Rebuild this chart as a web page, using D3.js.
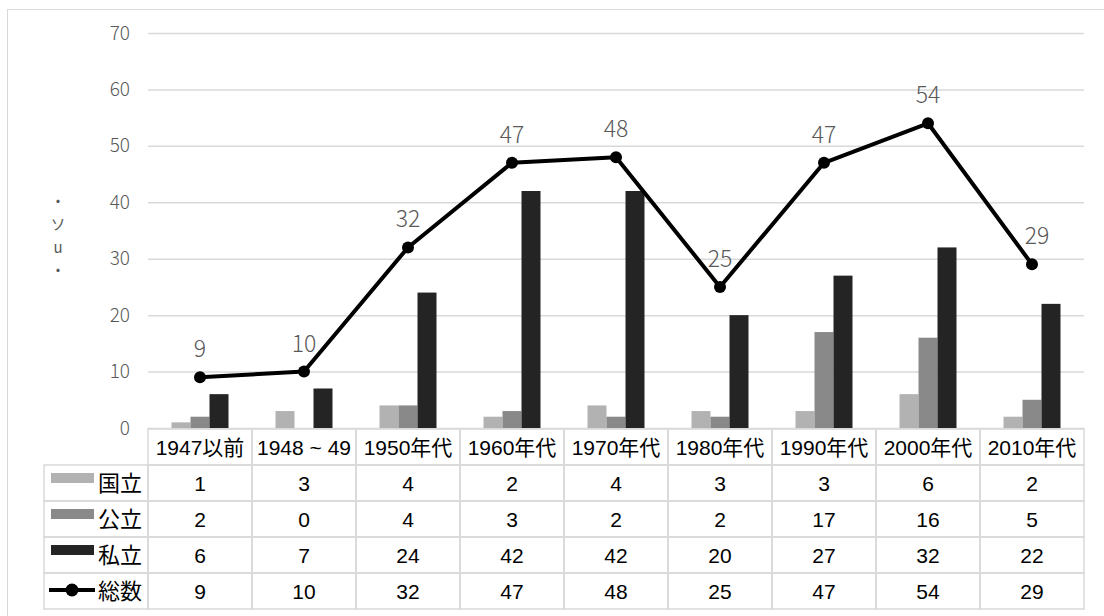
<!DOCTYPE html>
<html>
<head>
<meta charset="utf-8">
<script src="https://cdn.jsdelivr.net/npm/d3@7/dist/d3.min.js"></script>
<style>
  html, body { margin: 0; padding: 0; background: #fff; }
  svg { display: block; }
</style>
</head>
<body>
<svg id="chart" width="1104" height="616"></svg>
<script>
// Founding counts per period, by type of institution
const categories = ["1947以前", "1948 ~ 49", "1950年代", "1960年代", "1970年代", "1980年代", "1990年代", "2000年代", "2010年代"];
const national = [1, 3, 4, 2, 4, 3, 3, 6, 2];   // 国立
const publicU  = [2, 0, 4, 3, 2, 2, 17, 16, 5]; // 公立
const privateU = [6, 7, 24, 42, 42, 20, 27, 32, 22]; // 私立
const totals   = [9, 10, 32, 47, 48, 25, 47, 54, 29]; // 総数
const seriesNames = ["国立", "公立", "私立"];
const totalName = "総数";
const yTicks = [0, 10, 20, 30, 40, 50, 60, 70];
const axisLabelChars = ["・", "ソ", "u", "・"];

const svg = d3.select("#chart");
const grid = "#d9d9d9";
const textGrey = "#595959";
const barColors = ["#b2b2b2", "#898989", "#242424"];
const numFont = "'Liberation Sans', Arial, 'Noto Sans CJK JP', sans-serif";
const lightFont = "'Noto Sans CJK JP', 'Noto Sans', sans-serif";

// Outer chart frame
svg.append("rect").attr("x", 7.5).attr("y", 9.5).attr("width", 1110).attr("height", 620)
  .attr("fill", "none").attr("stroke", grid).attr("stroke-width", 1);

const plotL = 148, plotR = 1084, plotT = 33, plotB = 428;
const x0 = d3.scaleBand().domain(categories).range([plotL, plotR]).padding(0);
const bw = x0.bandwidth();
const groupW = 57;
const x1 = d3.scaleBand().domain(seriesNames).range([(bw - groupW) / 2, (bw + groupW) / 2]).padding(0);
const y = d3.scaleLinear().domain([0, 70]).range([plotB, plotT]);

// Gridlines and y tick labels
const yAxis = d3.axisLeft(y).tickValues(yTicks).tickSize(-(plotR - plotL)).tickPadding(18);
const gy = svg.append("g").attr("transform", `translate(${plotL},0)`).call(yAxis);
gy.select(".domain").remove();
gy.selectAll(".tick line").attr("stroke", grid).attr("stroke-width", 1.5);
gy.selectAll(".tick text").attr("fill", textGrey)
  .style("font-family", lightFont).style("font-weight", 300).style("font-size", "19px");

// Vertical axis title
svg.append("g").selectAll("text").data(axisLabelChars).join("text")
  .attr("x", 58).attr("y", (d, i) => 207 + i * 23)
  .attr("text-anchor", "middle").attr("fill", textGrey)
  .attr("font-family", lightFont).attr("font-size", 15).text(d => d);

// Clustered bars
const barSeries = [national, publicU, privateU];
const gBars = svg.append("g");
categories.forEach((c, i) => {
  barSeries.forEach((vals, s) => {
    const v = vals[i];
    if (v <= 0) return;
    gBars.append("rect")
      .attr("x", x0(c) + x1(seriesNames[s]))
      .attr("y", y(v))
      .attr("width", x1.bandwidth())
      .attr("height", y(0) - y(v))
      .attr("fill", barColors[s]);
  });
});

// Total line with markers
const cx = c => x0(c) + bw / 2;
const line = d3.line().x((d, i) => cx(categories[i])).y(d => y(d));
svg.append("path").datum(totals).attr("d", line)
  .attr("fill", "none").attr("stroke", "#000").attr("stroke-width", 4).attr("stroke-linejoin", "round");
svg.append("g").selectAll("circle").data(totals).join("circle")
  .attr("cx", (d, i) => cx(categories[i])).attr("cy", d => y(d)).attr("r", 6).attr("fill", "#000");
svg.append("g").selectAll("text").data(totals).join("text")
  .attr("x", (d, i) => cx(categories[i]) + (i === totals.length - 1 ? 5 : 0))
  .attr("y", d => y(d) - 20)
  .attr("text-anchor", "middle").attr("fill", textGrey)
  .attr("font-family", lightFont).attr("font-weight", 300).attr("font-size", 23)
  .text(d => d);

// Data table beneath the plot
const rowTop = 429, rowH = 36, legendLeft = 44;
const rows = [national, publicU, privateU, totals];
const rowNames = [...seriesNames, totalName];
const tbl = svg.append("g");

// header cells
categories.forEach(c => {
  tbl.append("rect").attr("x", x0(c)).attr("y", rowTop).attr("width", bw).attr("height", rowH)
    .attr("fill", "none").attr("stroke", grid).attr("stroke-width", 1.5);
  tbl.append("text").attr("x", x0(c) + bw / 2).attr("y", rowTop + rowH / 2 + 7.5)
    .attr("text-anchor", "middle").attr("font-family", numFont).attr("font-size", 21)
    .attr("fill", "#000").text(c);
});

rows.forEach((vals, r) => {
  const ry = rowTop + rowH * (r + 1);
  tbl.append("rect").attr("x", legendLeft).attr("y", ry).attr("width", plotL - legendLeft).attr("height", rowH)
    .attr("fill", "none").attr("stroke", grid).attr("stroke-width", 1.5);
  // legend key
  if (r < 3) {
    tbl.append("rect").attr("x", 51).attr("y", ry + 8).attr("width", 43).attr("height", 10)
      .attr("fill", barColors[r]);
  } else {
    tbl.append("line").attr("x1", 49).attr("x2", 95).attr("y1", ry + 17).attr("y2", ry + 17)
      .attr("stroke", "#000").attr("stroke-width", 4);
    tbl.append("circle").attr("cx", 72).attr("cy", ry + 17).attr("r", 6.5).attr("fill", "#000");
  }
  tbl.append("text").attr("x", 142).attr("y", ry + rowH / 2 + 8)
    .attr("text-anchor", "end").attr("font-family", "'Noto Sans CJK JP', sans-serif").attr("font-size", 22)
    .attr("fill", "#000").text(rowNames[r]);
  categories.forEach((c, i) => {
    tbl.append("rect").attr("x", x0(c)).attr("y", ry).attr("width", bw).attr("height", rowH)
      .attr("fill", "none").attr("stroke", grid).attr("stroke-width", 1.5);
    tbl.append("text").attr("x", x0(c) + bw / 2).attr("y", ry + rowH / 2 + 7.5)
      .attr("text-anchor", "middle").attr("font-family", numFont).attr("font-size", 21)
      .attr("fill", "#000").text(vals[i]);
  });
});
</script>
</body>
</html>
